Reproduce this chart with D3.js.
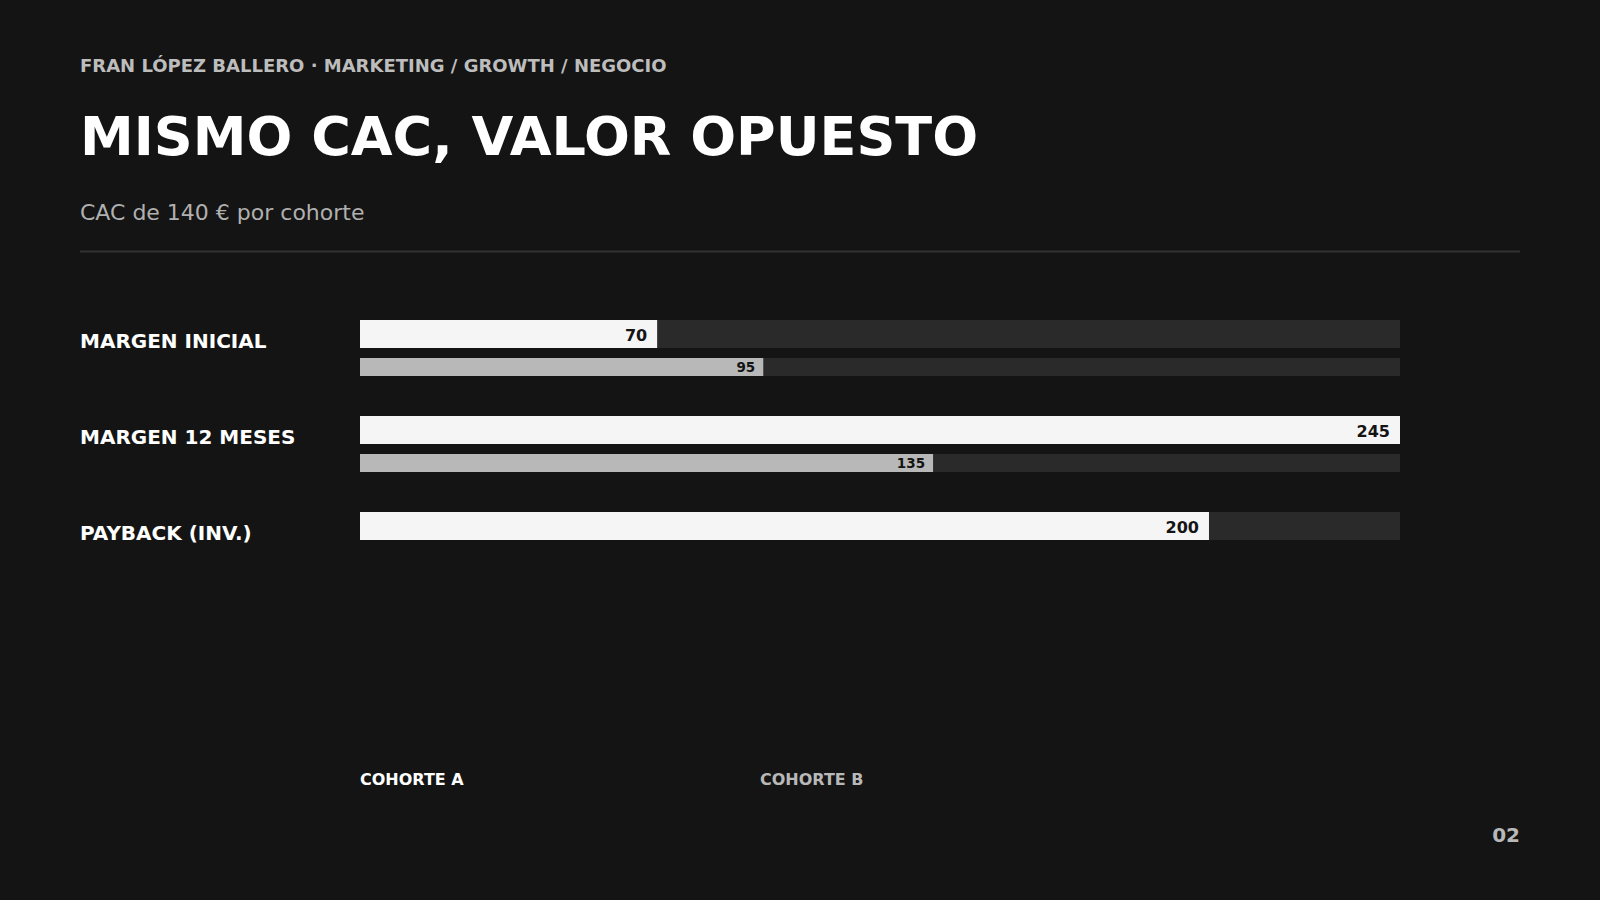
<!DOCTYPE html>
<html><head><meta charset="utf-8">
<script src="https://cdn.jsdelivr.net/npm/d3@7"></script>
<style>
html,body{margin:0;padding:0;background:#141414;}
svg{display:block;font-family:"DejaVu Sans",sans-serif;}
</style></head>
<body>
<svg id="c" width="1600" height="900"></svg>
<script>
const categories = ["MARGEN INICIAL", "MARGEN 12 MESES", "PAYBACK (INV.)"];
const cohortA = [70, 245, 200];
const cohortB = [95, 135, null];
const seriesNames = ["COHORTE A", "COHORTE B"];
const domainMax = 245;

const svg = d3.select("#c");
svg.append("rect").attr("width",1600).attr("height",900).attr("fill","#141414");

svg.append("text").attr("x",80).attr("y",72).attr("fill","#bdbdbd")
  .attr("font-size",18).attr("font-weight","bold")
  .text("FRAN LÓPEZ BALLERO · MARKETING / GROWTH / NEGOCIO");
svg.append("text").attr("x",80).attr("y",155).attr("fill","#ffffff")
  .attr("font-size",54).attr("font-weight","bold")
  .text("MISMO CAC, VALOR OPUESTO");
svg.append("text").attr("x",80).attr("y",220).attr("fill","#b0b0b0")
  .attr("font-size",22)
  .text("CAC de 140 € por cohorte");
svg.append("line").attr("x1",80).attr("x2",1520).attr("y1",251.5).attr("y2",251.5)
  .attr("stroke","#333333").attr("stroke-width",2);

const x = d3.scaleLinear().domain([0, domainMax]).range([360, 1400]);
const y = d3.scaleBand().domain(categories).range([320, 608]).paddingInner(0).paddingOuter(0);

const hA = 28, hB = 18, gapB = 38;
const rows = svg.append("g").selectAll("g").data(categories).join("g")
  .attr("transform", d => `translate(0,${y(d)})`);

rows.append("text").attr("x",80).attr("y",28).attr("fill","#ffffff")
  .attr("font-size",20).attr("font-weight","bold").text(d => d);

rows.append("rect").attr("x",x(0)).attr("y",0).attr("width",x(domainMax)-x(0)).attr("height",hA).attr("fill","#2a2a2a");
rows.append("rect").attr("x",x(0)).attr("y",0).attr("width",(d,i)=>x(cohortA[i])-x(0)).attr("height",hA).attr("fill","#f5f5f5");
rows.append("text").attr("x",(d,i)=>x(cohortA[i])-10).attr("y",21).attr("text-anchor","end")
  .attr("fill","#141414").attr("font-size",16).attr("font-weight","bold").text((d,i)=>cohortA[i]);

const rowsB = rows.filter((d,i)=>cohortB[i]!=null);
rowsB.append("rect").attr("x",x(0)).attr("y",gapB).attr("width",x(domainMax)-x(0)).attr("height",hB).attr("fill","#2a2a2a");
rowsB.append("rect").attr("x",x(0)).attr("y",gapB).attr("width",d=>x(cohortB[categories.indexOf(d)])-x(0)).attr("height",hB).attr("fill","#b8b8b8");
rowsB.append("text").attr("x",d=>x(cohortB[categories.indexOf(d)])-8).attr("y",gapB+14).attr("text-anchor","end")
  .attr("fill","#141414").attr("font-size",13.5).attr("font-weight","bold").text(d=>cohortB[categories.indexOf(d)]);

svg.append("g").selectAll("text").data(seriesNames).join("text")
  .attr("x",(d,i)=>i===0?360:760).attr("y",785)
  .attr("fill",(d,i)=>i===0?"#ffffff":"#b8b8b8")
  .attr("font-size",16).attr("font-weight","bold").text(d=>d);

svg.append("text").attr("x",1520).attr("y",842).attr("text-anchor","end").attr("fill","#b8b8b8")
  .attr("font-size",20).attr("font-weight","bold").text("02");
</script>
</body></html>
